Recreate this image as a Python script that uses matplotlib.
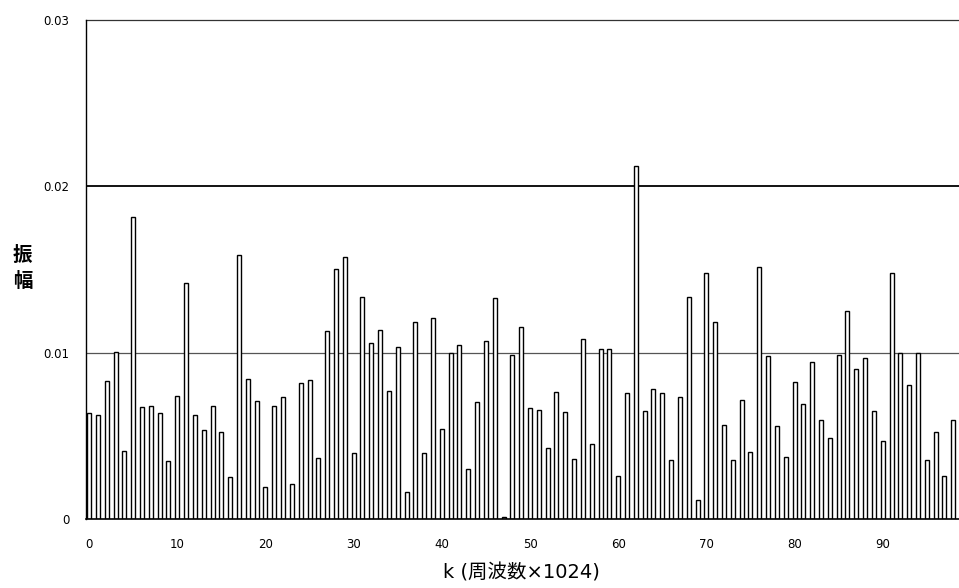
import matplotlib.pyplot as plt
import numpy as np

plt.rcParams['font.family'] = ['DejaVu Sans', 'Noto Sans CJK JP']

# 周波数インデックス k
k = np.arange(99)

# 振幅
amplitude = [
    0.00637, 0.00627, 0.00833, 0.01003, 0.00413, 0.01815, 0.00677, 0.00681, 0.00641, 0.00353,
    0.00743, 0.01418, 0.00629, 0.00535, 0.00681, 0.00525, 0.00253, 0.01585, 0.00841, 0.00709,
    0.00197, 0.00679, 0.00733, 0.00211, 0.00817, 0.00839, 0.00371, 0.01131, 0.01501, 0.01577,
    0.00399, 0.01337, 0.01057, 0.01137, 0.00771, 0.01035, 0.00167, 0.01187, 0.00399, 0.01211,
    0.00541, 0.00997, 0.01045, 0.00301, 0.00707, 0.01073, 0.01327, 0.00017, 0.00987, 0.01157,
    0.00669, 0.00659, 0.00427, 0.00767, 0.00643, 0.00361, 0.01083, 0.00455, 0.01021, 0.01025,
    0.00261, 0.00757, 0.02122, 0.00649, 0.00781, 0.00757, 0.00357, 0.00733, 0.01337, 0.00117,
    0.01481, 0.01185, 0.00569, 0.00357, 0.00715, 0.00403, 0.01513, 0.00979, 0.00563, 0.00375,
    0.00827, 0.00691, 0.00943, 0.00599, 0.00487, 0.00985, 0.01251, 0.00903, 0.00969, 0.00653,
    0.00473, 0.01477, 0.00997, 0.00807, 0.00997, 0.00357, 0.00527, 0.00263, 0.00599,
]

x_ticks = [0, 10, 20, 30, 40, 50, 60, 70, 80, 90]
y_ticks = [0, 0.01, 0.02, 0.03]
y_ticklabels = ['0', '0.01', '0.02', '0.03']

fig = plt.figure(figsize=(9.59, 5.88), dpi=100)
ax = fig.add_axes([0.0897, 0.1165, 0.9103, 0.8503])

# 横線（グリッド）
ax.axhline(0.01, color='#555555', linewidth=0.9, zorder=1)
ax.axhline(0.02, color='black', linewidth=1.3, zorder=1)
ax.axhline(0.03, color='#333333', linewidth=0.9, zorder=1, clip_on=False)

ax.bar(k, amplitude, width=0.45, color='white', edgecolor='black', linewidth=1.0, zorder=2)

ax.set_xlim(-0.35, 98.65)
ax.set_ylim(0, 0.03)

ax.set_xticks(x_ticks)
ax.set_xticklabels([str(v) for v in x_ticks], fontsize=8.5)
ax.set_yticks(y_ticks)
ax.set_yticklabels(y_ticklabels, fontsize=8.5)
ax.tick_params(axis='x', length=0, pad=13)
ax.tick_params(axis='y', length=0, pad=12)

ax.spines['top'].set_visible(False)
ax.spines['right'].set_visible(False)
ax.spines['left'].set_linewidth(1.0)
ax.spines['bottom'].set_linewidth(1.2)

fig.text(0.544, 0.0255, 'k (周波数×1024)', ha='center', va='center', fontsize=14)
fig.text(0.0235, 0.544, '振\n幅', ha='center', va='center', fontsize=14,
         fontweight='bold', linespacing=1.45)

plt.savefig('out.png', dpi=100)
